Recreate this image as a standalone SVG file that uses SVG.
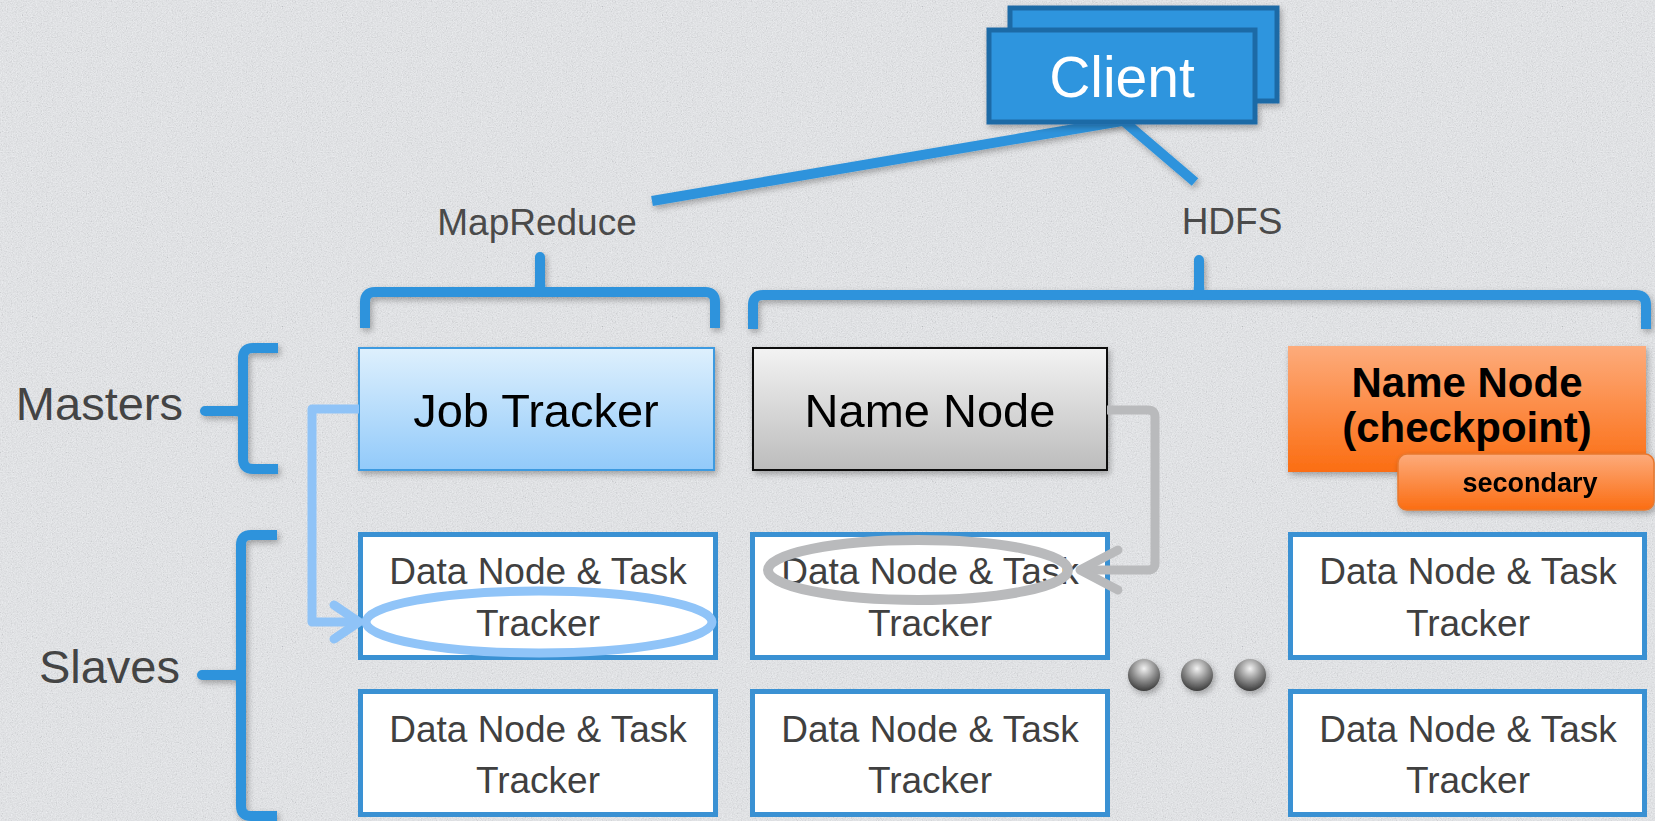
<svg xmlns="http://www.w3.org/2000/svg" width="1655" height="821" viewBox="0 0 1655 821">
  <defs>
    <style>
      .lbl { font-family: "Liberation Sans", Arial, sans-serif; fill: #4a4a4a; }
      .big { font-family: "Liberation Sans", Arial, sans-serif; font-size: 47px; }
      .dn-box { fill: #ffffff; stroke: #3a91d3; stroke-width: 5; }
      .dn-text { font-family: "Liberation Sans", Arial, sans-serif; font-size: 37px; fill: #404040; text-anchor: middle; }
      .brace { fill: none; stroke: #2e93dc; stroke-width: 10; stroke-linejoin: round; }
      .spike { fill: #2e93dc; }
      .link { fill: none; stroke: #2e93dc; stroke-width: 10; }
      .blue-flow { fill: none; stroke: #8fc3f7; stroke-width: 9; stroke-linejoin: round; }
      .gray-flow { fill: none; stroke: #b9babc; stroke-width: 9; stroke-linejoin: round; }
    </style>
    <filter id="grain" x="0" y="0" width="100%" height="100%">
      <feTurbulence type="fractalNoise" baseFrequency="0.8" numOctaves="3" seed="7" stitchTiles="stitch"/>
      <feColorMatrix type="matrix" values="0.55 0.55 0.55 0 -0.35  0.55 0.55 0.55 0 -0.35  0.56 0.56 0.56 0 -0.34  0 0 0 0 1"/>
    </filter>
    <filter id="shadow" x="-10%" y="-10%" width="125%" height="130%">
      <feGaussianBlur in="SourceAlpha" stdDeviation="3"/>
      <feOffset dx="2" dy="3" result="b"/>
      <feComponentTransfer><feFuncA type="linear" slope="0.3"/></feComponentTransfer>
      <feMerge><feMergeNode/><feMergeNode in="SourceGraphic"/></feMerge>
    </filter>
    <linearGradient id="gJob" x1="0" y1="0" x2="0" y2="1">
      <stop offset="0" stop-color="#def0fd"/>
      <stop offset="1" stop-color="#92cafa"/>
    </linearGradient>
    <linearGradient id="gName" x1="0" y1="0" x2="0" y2="1">
      <stop offset="0" stop-color="#f3f3f3"/>
      <stop offset="1" stop-color="#bcbcbc"/>
    </linearGradient>
    <linearGradient id="gOrange" x1="0" y1="0" x2="0" y2="1">
      <stop offset="0" stop-color="#fdab7b"/>
      <stop offset="1" stop-color="#fb6d12"/>
    </linearGradient>
    <radialGradient id="gBall" cx="0.5" cy="0.3" r="0.7">
      <stop offset="0" stop-color="#f2f2f2"/>
      <stop offset="0.55" stop-color="#8a8a8a"/>
      <stop offset="1" stop-color="#3c3c3c"/>
    </radialGradient>
  </defs>

  <!-- textured paper background -->
  <rect width="1655" height="821" fill="#eceef0"/>
  <rect width="1655" height="821" filter="url(#grain)" opacity="0.22"/>

  <!-- group braces and labels -->
  <g id="braces" filter="url(#shadow)">
    <path class="brace" d="M365,328 V302 Q365,292 375,292 H705 Q715,292 715,302 V328"/>
    <path class="spike" d="M530,297 Q535,292 535,282 V257 A5,5 0 0 1 545,257 V282 Q545,292 550,297 Z"/>
    <path class="brace" d="M753,329 V305 Q753,295 763,295 H1636 Q1646,295 1646,305 V329"/>
    <path class="spike" d="M1189,300 Q1194,295 1194,285 V260 A5,5 0 0 1 1204,260 V285 Q1204,295 1209,300 Z"/>
    <path class="brace" d="M278,348 H253 Q243,348 243,358 V459 Q243,469 253,469 H278"/>
    <path class="spike" d="M238,401 Q243,406 233,406 H205 A5,5 0 0 0 205,416 H233 Q243,416 238,421 Z"/>
    <path class="brace" d="M277,535 H251 Q241,535 241,545 V806 Q241,816 251,816 H277"/>
    <path class="spike" d="M236,665 Q241,670 231,670 H202 A5,5 0 0 0 202,680 H231 Q241,680 236,685 Z"/>
  </g>
  <text class="lbl" x="537" y="235" font-size="37" text-anchor="middle">MapReduce</text>
  <text class="lbl" x="1232" y="234" font-size="37" text-anchor="middle">HDFS</text>
  <text class="big" x="183" y="420" fill="#444444" text-anchor="end">Masters</text>
  <text class="big" x="180" y="683" fill="#444444" text-anchor="end">Slaves</text>

  <!-- master nodes -->
  <g id="job-tracker" filter="url(#shadow)">
    <rect x="359" y="348" width="355" height="122" fill="url(#gJob)" stroke="#3d9ae0" stroke-width="2"/>
    <text class="big" x="536" y="427" fill="#000" text-anchor="middle">Job Tracker</text>
  </g>
  <g id="name-node" filter="url(#shadow)">
    <rect x="753" y="348" width="354" height="122" fill="url(#gName)" stroke="#111" stroke-width="2"/>
    <text class="big" x="930" y="427" fill="#000" text-anchor="middle">Name Node</text>
  </g>
  <g id="name-node-checkpoint">
    <rect x="1288" y="346" width="358" height="126" fill="url(#gOrange)" filter="url(#shadow)"/>
    <text x="1467" y="397" font-family="Liberation Sans, Arial, sans-serif" font-size="42" font-weight="bold" fill="#000" text-anchor="middle">Name Node</text>
    <text x="1467" y="442" font-family="Liberation Sans, Arial, sans-serif" font-size="42" font-weight="bold" fill="#000" text-anchor="middle">(checkpoint)</text>
  </g>
  <g id="secondary-tag" filter="url(#shadow)">
    <rect x="1398" y="454" width="256" height="56" rx="9" fill="url(#gOrange)" stroke="#e8782e" stroke-width="1.5"/>
    <text x="1530" y="492" font-family="Liberation Sans, Arial, sans-serif" font-size="27" font-weight="bold" fill="#000" text-anchor="middle">secondary</text>
  </g>

  <!-- slave nodes -->
  <g id="data-node-1">
    <rect class="dn-box" x="360.5" y="534.5" width="355" height="123"/>
    <text class="dn-text" x="538" y="584">Data Node &amp; Task</text>
    <text class="dn-text" x="538" y="636">Tracker</text>
  </g>
  <g id="data-node-2">
    <rect class="dn-box" x="752.5" y="534.5" width="355" height="123"/>
    <text class="dn-text" x="930" y="584">Data Node &amp; Task</text>
    <text class="dn-text" x="930" y="636">Tracker</text>
  </g>
  <g id="data-node-3">
    <rect class="dn-box" x="1290.5" y="534.5" width="354" height="123"/>
    <text class="dn-text" x="1468" y="584">Data Node &amp; Task</text>
    <text class="dn-text" x="1468" y="636">Tracker</text>
  </g>
  <g id="data-node-4">
    <rect class="dn-box" x="360.5" y="691.5" width="355" height="123"/>
    <text class="dn-text" x="538" y="742">Data Node &amp; Task</text>
    <text class="dn-text" x="538" y="793">Tracker</text>
  </g>
  <g id="data-node-5">
    <rect class="dn-box" x="752.5" y="691.5" width="355" height="123"/>
    <text class="dn-text" x="930" y="742">Data Node &amp; Task</text>
    <text class="dn-text" x="930" y="793">Tracker</text>
  </g>
  <g id="data-node-6">
    <rect class="dn-box" x="1290.5" y="691.5" width="354" height="123"/>
    <text class="dn-text" x="1468" y="742">Data Node &amp; Task</text>
    <text class="dn-text" x="1468" y="793">Tracker</text>
  </g>
  <g id="more-nodes" filter="url(#shadow)">
    <circle cx="1144" cy="675" r="16" fill="url(#gBall)"/>
    <circle cx="1197" cy="675" r="16" fill="url(#gBall)"/>
    <circle cx="1250" cy="675" r="16" fill="url(#gBall)"/>
  </g>

  <!-- connectors -->
  <g id="connectors">
    <g filter="url(#shadow)">
      <line class="link" x1="1122" y1="121" x2="652" y2="201"/>
      <line class="link" x1="1120" y1="118" x2="1195" y2="182"/>
    </g>
    <path class="blue-flow" d="M359,409 H312 V622 H358"/>
    <path class="blue-flow" d="M334,605 L359,622 L334,639" stroke-linecap="round"/>
    <ellipse cx="539" cy="622" rx="173" ry="31" fill="none" stroke="#90c4f8" stroke-width="9"/>
    <path class="gray-flow" d="M1107,410 H1148 Q1155,410 1155,417 V563 Q1155,570 1148,570 H1082"/>
    <path class="gray-flow" d="M1118,550 L1080,570 L1118,590" stroke-linecap="round"/>
    <ellipse cx="918" cy="570" rx="150" ry="30" fill="none" stroke="#b9babc" stroke-width="10"/>
  </g>

  <!-- client node -->
  <g id="client" filter="url(#shadow)">
    <rect x="1010" y="8" width="267" height="93" fill="#2e95de" stroke="#1f6aa6" stroke-width="5"/>
    <rect x="989" y="30" width="266" height="92" fill="#2e95de" stroke="#1f6aa6" stroke-width="5"/>
    <text x="1122" y="97" font-family="Liberation Sans, Arial, sans-serif" font-size="57" fill="#ffffff" text-anchor="middle">Client</text>
  </g>
</svg>
